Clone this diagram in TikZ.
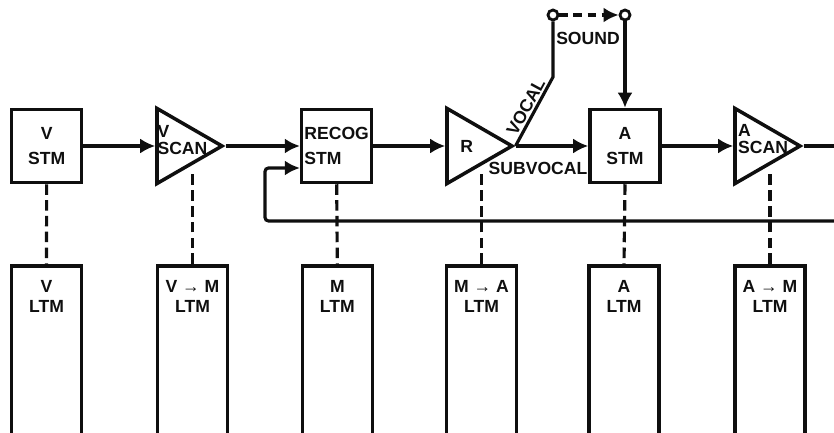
\documentclass[tikz,border=0pt]{standalone}
\usepackage{fontspec}
\setmainfont{Liberation Sans}
\usepackage{tikz}
\usetikzlibrary{arrows.meta,shapes.geometric}
\definecolor{encre}{RGB}{15,15,15}

\begin{document}
\begin{tikzpicture}[
    txt/.style={inner sep=0pt,font=\bfseries\fontsize{15}{21}\selectfont,text=encre,align=center},
    tri txt/.style={txt,anchor=west,align=left,font=\bfseries\fontsize{15}{14}\selectfont},
    stm/.style={txt,draw=encre,line width=3pt,minimum width=2.1cm,minimum height=2.19cm},
    ltm/.style={draw=encre,line width=3pt,minimum width=2.1cm,minimum height=5.6cm,anchor=north},
    scan/.style={draw=encre,line width=3pt,regular polygon,regular polygon sides=3,
      regular polygon rotate=-90,minimum size=2.6cm,inner sep=0pt},
    term/.style={draw=encre,circle,line width=2.4pt,minimum size=0.3cm,inner sep=0pt,fill=white},
    conn/.style={draw=encre,line width=2.7pt},
    fleche/.style={conn,-{Latex[length=0.45cm,width=0.45cm]}},
    tirets/.style={conn,dash pattern=on 9pt off 4.5pt}]
    \useasboundingbox (0,0) rectangle (25.02,12.99);
    \clip (0,0) rectangle (25.02,12.99);
    \node[stm] (vstm) at (1.4,8.61) {V\\STM};
    \node[scan] (vscan) at (5.36,8.61) {};
    \node[tri txt] (vscan-txt) at (4.72,8.79) {V\\SCAN};
    \node[stm,align=left] (recog) at (10.1,8.61) {RECOG\\STM};
    \node[scan] (rtri) at (14.06,8.61) {};
    \node[txt] (rtri-txt) at (14.0,8.61) {R};
    \node[stm] (astm) at (18.75,8.61) {A\\STM};
    \node[scan] (ascan) at (22.7,8.61) {};
    \node[tri txt] (ascan-txt) at (22.14,8.82) {A\\SCAN};
    \node[term] (src) at (16.59,12.54) {};
    \node[term] (dst) at (18.75,12.54) {};
    \coordinate (vbend) at (16.59,10.68);
    \coordinate (out) at (25.4,8.61);
    \coordinate (fbend) at (25.4,6.36);
    \coordinate (fbcorner) at (7.95,7.95);
    \foreach \nm/\x/\t in {vltm/1.395/{V\\LTM},vmltm/5.775/{V → M\\LTM},mltm/10.12/{M\\LTM},
                           maltm/14.445/{M → A\\LTM},altm/18.72/{A\\LTM},amltm/23.1/{A → M\\LTM}}{
      \node[ltm] (\nm) at (\x,5.07) {};
      \node[txt,font=\bfseries\fontsize{15}{17}\selectfont] (\nm-txt) at (\x,4.1) {\t};}
    \draw[fleche] (vstm.east) -- (vscan.west);
    \draw[fleche] (vscan.east) -- (recog.west);
    \draw[fleche] (recog.east) -- (rtri.west);
    \draw[fleche] (rtri.east) -- (astm.west);
    \draw[fleche] (astm.east) -- (ascan.west);
    \draw[conn] (ascan.east) -- (out);
    \draw[fleche,rounded corners=3pt] (fbend) -| (fbcorner) -- (fbcorner -| recog.west);
    \draw[conn] (rtri.east) -- node[txt,sloped,above=1.5pt,pos=0.5] (vocal) {VOCAL} (vbend) -- (src.south);
    \draw[fleche,dash pattern=on 7pt off 5pt] (src.east) -- (dst.west);
    \draw[fleche] (dst.south) -- (astm.north);
    \node[txt] (sound) at (17.64,11.85) {SOUND};
    \node[txt] (subvocal) at (16.14,7.95) {SUBVOCAL};
    \foreach \a/\b in {vstm/vltm,recog/mltm,astm/altm}{
      \draw[tirets] (\a.south) -- (\b.north);}
    \foreach \a/\b in {vscan/vmltm,rtri/maltm,ascan/amltm}{
      \draw[tirets] (\b.north) -- (\b.north |- \a.south);}
  \end{tikzpicture}
\end{document}
